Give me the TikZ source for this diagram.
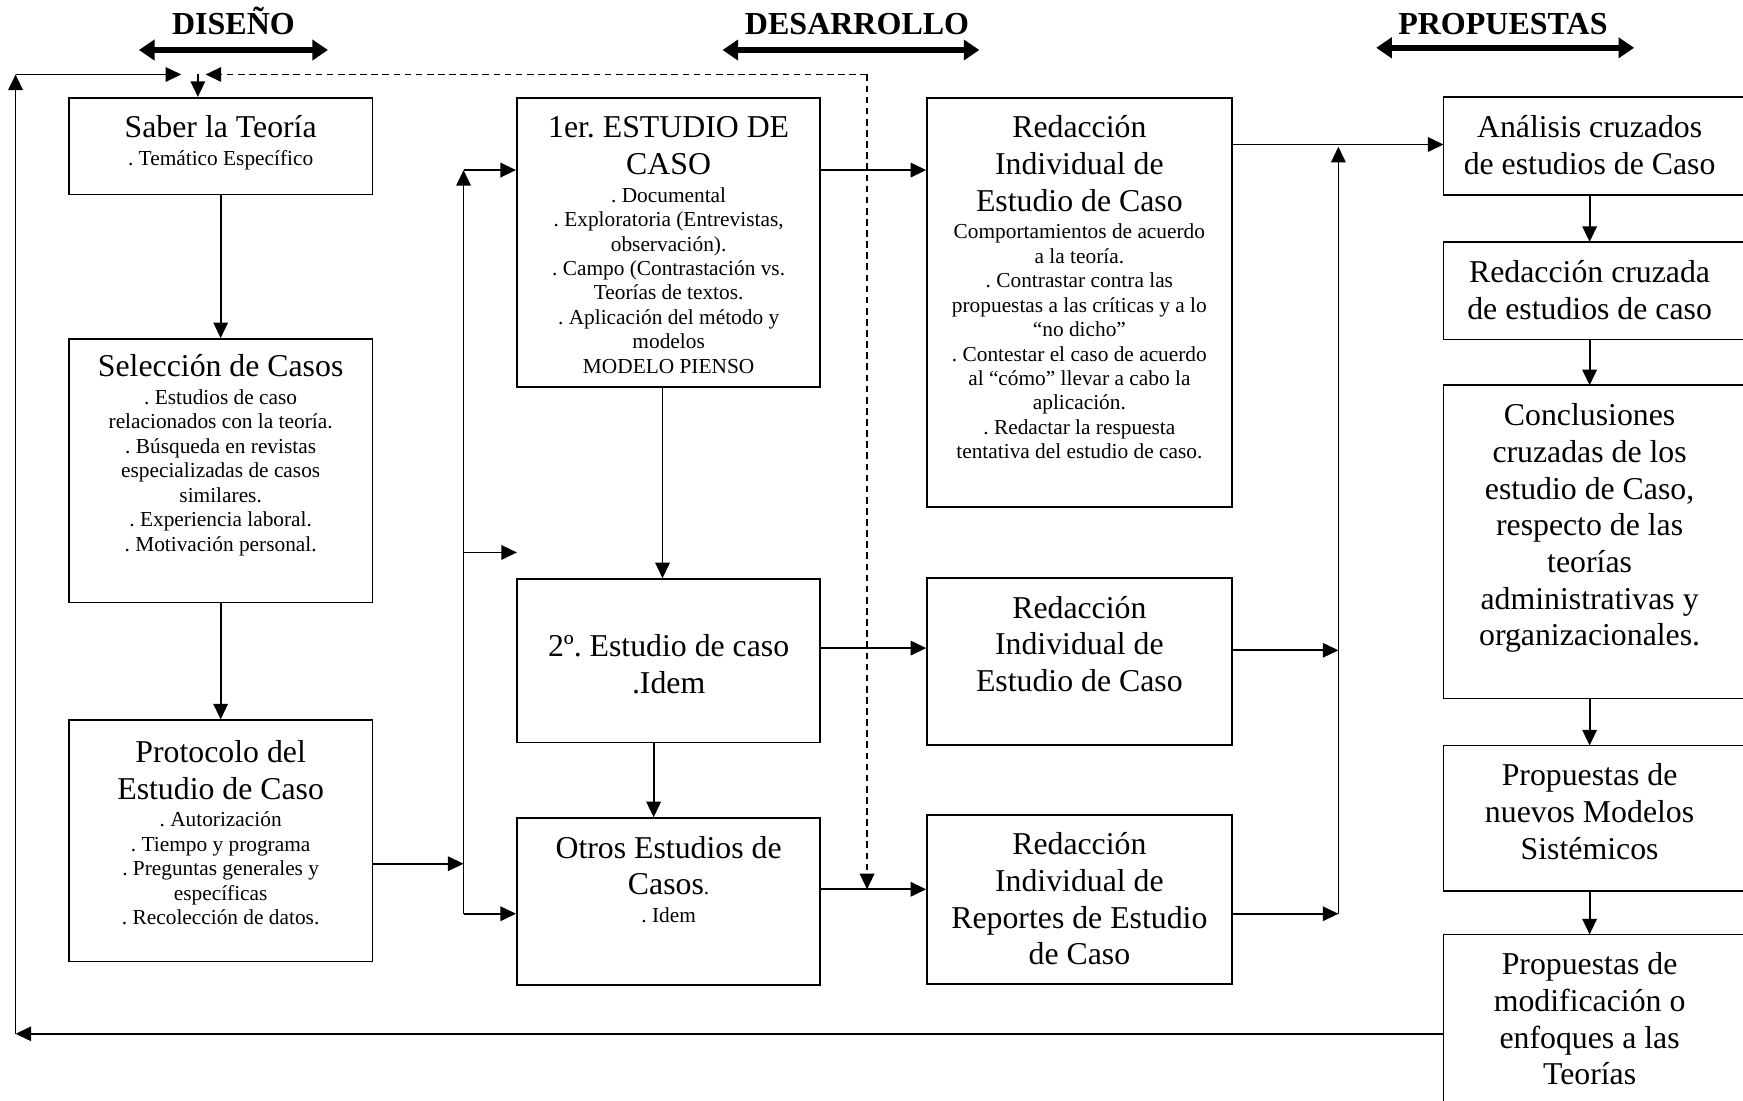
\documentclass[tikz,border=0pt]{standalone}
\usepackage{fontspec}
\setmainfont{Liberation Serif}
\usetikzlibrary{arrows.meta}
\frenchspacing
\newcommand\bigf{\fontsize{14.3}{16.5}\selectfont}
\newcommand\smf{\fontsize{9.6}{11}\selectfont}
\newcommand\sm{\par\vspace{1.4pt}\smf}
\newcommand\mybox[7][18]{\node[box] (#2) at ({(#3+#5)/2},{(#4+#6)/2}) {\parbox[c][\fpeval{(#6-#4)*0.5}pt][t]{\fpeval{(#5-#3)*0.5}pt}{\centering\rule{0pt}{#1pt}#7}};}
\newcommand\myrbox[6]{\node[rbox] (#1) at ({(#2+#4)/2},{(#3+#5)/2}) {\parbox[c][\fpeval{(#5-#3)*0.5}pt][t]{\fpeval{(#4-#2)*0.5}pt}{\centering\rule{0pt}{18pt}#6}};
\draw[bl] (#1.south west) rectangle (#1.north -| rx);}
\begin{document}
\begin{tikzpicture}[x=0.5pt,y=-0.5pt,
  box/.style={draw, line width=0.8pt, inner sep=0pt, font=\bigf},
  rbox/.style={draw=none, inner sep=0pt, font=\bigf},
  bl/.style={line width=0.8pt},
  arr/.style={line width=0.8pt, -{Triangle[length=7pt,width=6.5pt]}},
  dsh/.style={arr, dash pattern=on 3pt off 2pt},
  hdr/.style={font=\fontsize{14.4}{16}\selectfont\bfseries, inner sep=0pt, anchor=base},
  harr/.style={line width=2.6pt, {Triangle[length=7pt,width=9pt]}-{Triangle[length=7pt,width=9pt]}}]
\useasboundingbox (0,0) rectangle (1568,990);
\clip (0,0) rectangle (1568,990);
\coordinate (rx) at (1580,0);

% headers
\node[hdr] (hd1) at (210,31) {DISEÑO};
\node[hdr] (hd2) at (771,31) {DESARROLLO};
\node[hdr] (hd3) at (1352,31) {PROPUESTAS};
\coordinate (h1a) at (125,45); \coordinate (h1b) at (295,45);
\coordinate (h2a) at (650,45); \coordinate (h2b) at (881,45);
\coordinate (h3a) at (1238,43); \coordinate (h3b) at (1470,43);
\draw[harr] (h1a) -- (h1b);
\draw[harr] (h2a) -- (h2b);
\draw[harr] (h3a) -- (h3b);

% left column
\mybox{saber}{62}{88}{335}{175}{Saber la Teoría\sm . Temático Específico}
\mybox[17]{selec}{62}{305}{335}{542}{Selección de Casos\sm . Estudios de caso\\relacionados con la teoría.\\. Búsqueda en revistas\\especializadas de casos\\similares.\\. Experiencia laboral.\\. Motivación personal.}
\mybox[19]{proto}{62}{648}{335}{865}{Protocolo del\\Estudio de Caso\sm . Autorización\\. Tiempo y programa\\. Preguntas generales y\\específicas\\. Recolección de datos.}

% middle column
\mybox{est1}{465}{88}{738}{348}{1er. ESTUDIO DE\\CASO\sm . Documental\\. Exploratoria (Entrevistas,\\observación).\\. Campo (Contrastación vs.\\Teorías de textos.\\. Aplicación del método y\\modelos\\MODELO PIENSO}
\mybox[35]{est2}{465}{521}{738}{668}{2º. Estudio de caso\\.Idem}
\mybox{otros}{465}{736}{738}{886}{Otros Estudios de\\Casos{\smf.}\sm . Idem}

\mybox{red1}{834}{88}{1108}{456}{Redacción\\Individual de\\Estudio de Caso\sm Comportamientos de acuerdo\\a la teoría.\\. Contrastar contra las\\propuestas a las críticas y a lo\\“no dicho”\\. Contestar el caso de acuerdo\\al “cómo” llevar a cabo la\\aplicación.\\. Redactar la respuesta\\tentativa del estudio de caso.}
\mybox{red2}{834}{520}{1108}{670}{Redacción\\Individual de\\Estudio de Caso}
\mybox{red3}{834}{733}{1108}{885}{Redacción\\Individual de\\Reportes de Estudio\\de Caso}

% right column
\myrbox{anal}{1299}{88}{1561}{175}{Análisis cruzados\\de estudios de Caso}
\myrbox{redc}{1299}{218}{1561}{305}{Redacción cruzada\\de estudios de caso}
\myrbox{concl}{1299}{347}{1561}{628}{Conclusiones\\cruzadas de los\\estudio de Caso,\\respecto de las\\teorías\\administrativas y\\organizacionales.}
\myrbox{propn}{1299}{671}{1561}{801}{Propuestas de\\nuevos Modelos\\Sistémicos}
\myrbox{propm}{1299}{841}{1561}{1000}{Propuestas de\\modificación o\\enfoques a las\\Teorías}

% left column connectors
\draw[arr] (saber) -- (selec);
\draw[arr] (selec) -- (proto);

% left bus
\coordinate (bLt) at (417,153);
\coordinate (bLm) at (417,497);
\coordinate (bLp) at (417,777);
\coordinate (bLb) at (417,822);
\coordinate (midend) at (465,497);
\draw[arr] (proto.east |- bLp) -- (bLp);
\draw[arr] (bLb) -- (bLt);
\draw[arr] (bLt) -- (est1.west |- bLt);
\draw[arr] (bLm) -- (midend);
\draw[arr] (bLb) -- (otros.west |- bLb);

% middle connectors
\coordinate (x596) at (596,0);
\coordinate (x588) at (588,0);
\coordinate (y583) at (0,583);
\coordinate (y800) at (0,800);
\draw[arr] (est1.east |- bLt) -- (red1.west |- bLt);
\draw[arr] (est1.south -| x596) -- (est2.north -| x596);
\draw[arr] (est2.east |- y583) -- (red2.west |- y583);
\draw[arr] (est2.south -| x588) -- (otros.north -| x588);
\draw[arr] (otros.east |- y800) -- (red3.west |- y800);

% right bus
\coordinate (bRl) at (1204,130);
\coordinate (bRt) at (1204,132);
\coordinate (bR2) at (1204,585);
\coordinate (bR3) at (1204,822);
\draw[arr] (red1.east |- bRl) -- (anal.west |- bRl);
\draw[arr] (bR3) -- (bRt);
\draw[arr] (red2.east |- bR2) -- (bR2);
\draw[arr] (red3.east |- bR3) -- (bR3);

% right column connectors
\draw[arr] (anal) -- (redc);
\draw[arr] (redc) -- (concl);
\draw[arr] (concl) -- (propn);
\draw[arr] (propn) -- (propm.north);

% feedback loop
\coordinate (fbB) at (14,930);
\coordinate (fbT) at (14,67);
\coordinate (fbR) at (163,67);
\coordinate (dn) at (178,67);
\draw[arr] (propm.west |- fbB) -- (fbB);
\draw[arr] (fbB) -- (fbT);
\draw[arr] (fbT) -- (fbR);
\draw[arr] (dn) -- (saber.north -| dn);

% dashed loop
\coordinate (dsA) at (780,67);
\coordinate (dsL) at (185,67);
\coordinate (dsB) at (780,800);
\draw[dsh] (dsA) -- (dsL);
\draw[dsh] (dsA) -- (dsB);
\end{tikzpicture}
\end{document}
